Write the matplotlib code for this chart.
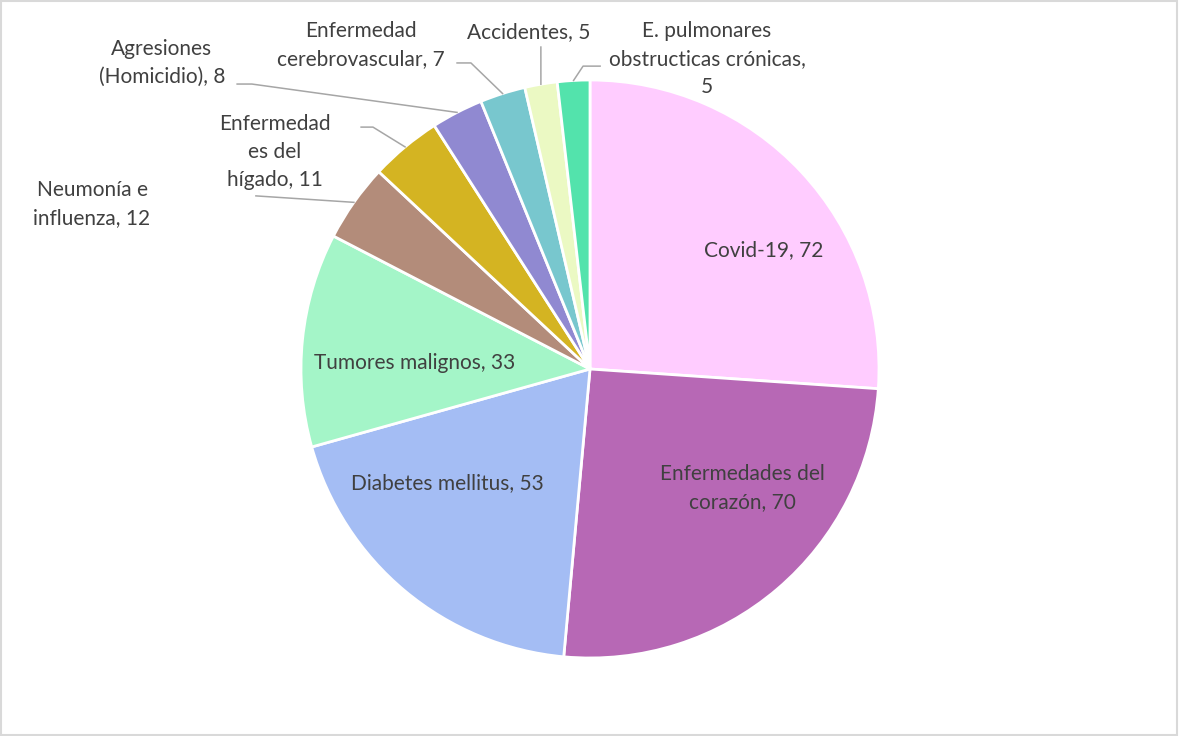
import numpy as np
import matplotlib
matplotlib.use('Agg')
from matplotlib import pyplot as plt
from matplotlib.patches import Rectangle

plt.rcParams['font.family'] = ['Lato', 'DejaVu Sans']

labels = ['Covid-19', 'Enfermedades del\ncorazón', 'Diabetes mellitus', 'Tumores malignos',
          'Neumonía e\ninfluenza', 'Enfermedad\nes del\nhígado', 'Agresiones\n(Homicidio)',
          'Enfermedad\ncerebrovascular', 'Accidentes', 'E. pulmonares\nobstructicas crónicas,\n']
values = [72, 70, 53, 33, 12, 11, 8, 7, 5, 5]
colors = ['#FFCCFF', '#B768B5', '#A4BDF4', '#A4F5C8', '#B38C7A',
          '#D4B422', '#9089D1', '#78C7CE', '#EBF9C3', '#53E3AC']

# label layout (data coords, pie radius = 1): text centre, line start, elbow
inside_pos = [(0.60, 0.41), (0.526, -0.412), (-0.495, -0.394), (-0.606, 0.021)]
outside_pos = {
    4: ((-1.723, 0.571), (-1.156, 0.599), (-1.156, 0.599)),
    5: ((-1.090, 0.751), (-0.792, 0.837), (-0.751, 0.837)),
    6: ((-1.481, 1.059), (-1.221, 0.986), (-1.170, 0.986)),
    7: ((-0.792, 1.121), (-0.460, 1.059), (-0.412, 1.059)),
    8: ((-0.211, 1.166), (-0.170, 1.114), (-0.170, 1.114)),
    9: ((0.405, 1.073), (0.035, 1.048), (-0.024, 1.048)),
}

fig = plt.figure(figsize=(11.79, 7.36), dpi=100)
ax = fig.add_axes([0, 0, 1, 1])
wedges, _ = ax.pie(values, colors=colors, startangle=90, counterclock=False,
                   wedgeprops=dict(edgecolor='white', linewidth=2))
ax.set_xlim(-590 / 289, 589 / 289)
ax.set_ylim(-367 / 289, 369 / 289)
ax.axis('off')

txt = '#404040'
fs = 15
ls = 1.5
for i in range(4):
    x, y = inside_pos[i]
    ax.text(x, y, f'{labels[i]}, {values[i]}', ha='center', va='center',
            fontsize=fs, color=txt, linespacing=ls)

for i, (c, start, elbow) in outside_pos.items():
    w = wedges[i]
    mid = np.deg2rad((w.theta1 + w.theta2) / 2)
    edge = (np.cos(mid), np.sin(mid))
    ax.plot([start[0], elbow[0], edge[0]], [start[1], elbow[1], edge[1]],
            color='#A6A6A6', lw=1.1, zorder=1)
    s = f'{labels[i]}{values[i]}' if labels[i].endswith('\n') else f'{labels[i]}, {values[i]}'
    ax.text(c[0], c[1], s, ha='center', va='center', fontsize=fs, color=txt,
            linespacing=ls)

fig.patches.append(Rectangle((0.001, 0.002), 0.997, 0.996, transform=fig.transFigure,
                             fill=False, edgecolor='#D9D9D9', lw=1.5))
fig.savefig('out.png', dpi=100, facecolor='white')
